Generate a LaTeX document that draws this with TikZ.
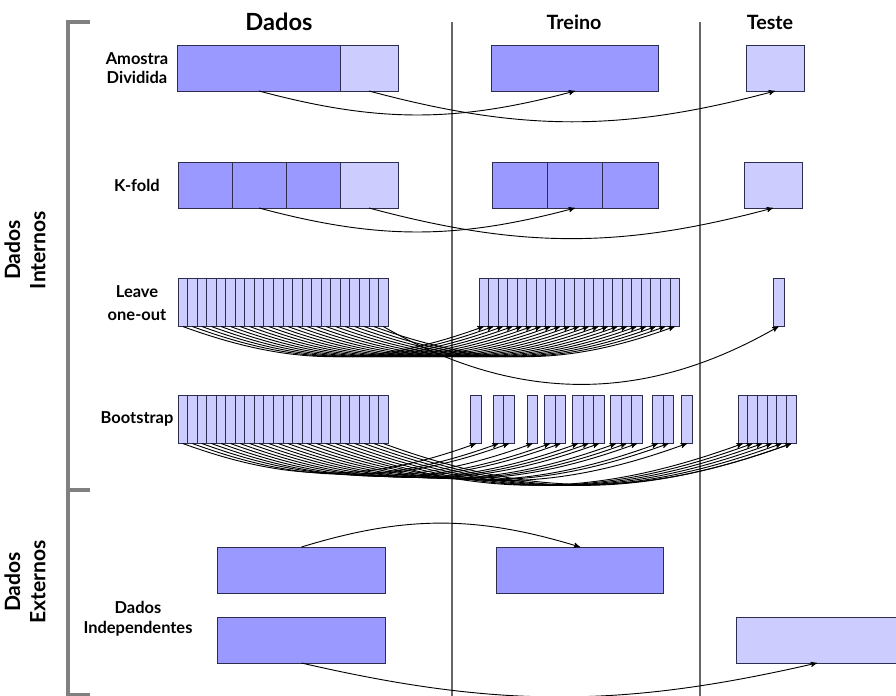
\documentclass[tikz,border=0pt]{standalone}
\usepackage{fontspec}
\setmainfont{Lato}
\usetikzlibrary{arrows,calc}

\definecolor{treinocor}{RGB}{153,153,255}
\definecolor{testecor}{RGB}{204,204,255}
\definecolor{bordacor}{RGB}{45,45,80}
\definecolor{chavecor}{RGB}{128,128,128}

\tikzset{
  caixa/.style={draw=bordacor, line width=0.7pt, inner sep=0pt, outer sep=0pt, minimum height=1.15cm},
  trn/.style={caixa, fill=treinocor},
  tst/.style={caixa, fill=testecor},
  fina/.style={tst, minimum width=0.239cm, minimum height=1.2cm},
  seta/.style={->, >=stealth', line width=0.65pt},
  rotulo/.style={align=center, font=\bfseries\fontsize{11.7}{14}\selectfont},
  titulo/.style={font=\bfseries\fontsize{14}{16}\selectfont},
  lado/.style={rotate=90, align=center, font=\bfseries\fontsize{15}{18}\selectfont},
  chave/.style={draw=chavecor, line width=2.8pt},
  divisa/.style={draw=black!60, line width=0.9pt}
}

\begin{document}
\begin{tikzpicture}[x=0.025cm, y=-0.025cm]
\useasboundingbox (0,0) rectangle (896,696);

% chaves laterais
\draw[chave] (90,22) -- (68,22) -- (68,490) -- (90,490);
\draw[chave] (68,490) -- (68,695) -- (90,695);
\node[lado] (internos) at (25,250) {Dados\\Internos};
\node[lado] (externos) at (25,582) {Dados\\Externos};

% colunas
\node[titulo, font=\bfseries\fontsize{16.8}{19}\selectfont] (dados) at (279,22) {Dados};
\node[titulo] (treino) at (574,22) {Treino};
\node[titulo] (teste) at (770,22) {Teste};
\draw[divisa] (452,22) -- (452,696);
\draw[divisa] (700,22) -- (700,696);

% amostra dividida
\node[rotulo] (amostra) at (137,68) {Amostra\\Dividida};
\node[trn, minimum width=4.05cm] (d1a) at (259,68) {};
\node[tst, minimum width=1.45cm] (d1b) at (369,68) {};
\node[trn, minimum width=4.15cm] (t1) at (575,68) {};
\node[tst, minimum width=1.45cm] (s1) at (775,68) {};
\draw[seta] (d1a.south) to[bend right=15] (t1.south);
\draw[seta] (d1b.south) to[bend right=15] (s1.south);

% k-fold
\node[rotulo] (kfold) at (137,185) {K-fold};
\foreach \i in {1,2,3}
  \node[trn, minimum width=1.35cm] (d2-\i) at ({178+54*(\i-0.5)},185) {};
\node[tst, minimum width=1.45cm] (d2-4) at (369,185) {};
\foreach \i in {1,2,3}
  \node[trn, minimum width=1.383cm] (t2-\i) at ({492+55.33*(\i-0.5)},185) {};
\node[tst, minimum width=1.45cm] (s2) at (773,185) {};
\draw[seta] (d2-2.south) to[bend right=15] (t2-2.south);
\draw[seta] (d2-4.south) to[bend right=15] (s2.south);

% leave one-out
\node[rotulo] (loo) at (137,303) {Leave\\[1mm]one-out};
\foreach \i in {1,...,22}
  \node[fina] (d3-\i) at ({178+9.55*(\i-0.5)},302.5) {};
\foreach \i in {1,...,21}
  \node[fina] (t3-\i) at ({479+9.55*(\i-0.5)},302.5) {};
\node[fina, minimum width=0.275cm] (s3) at (778.5,302.5) {};
\foreach \i in {1,...,21}
  \draw[seta] (d3-\i.south) to[bend right=20] (t3-\i.south);
\draw[seta] (d3-22.south) to[bend right=30] (s3.south);

% bootstrap
\node[rotulo] (boot) at (137,419) {Bootstrap};
\foreach \i in {1,...,22}
  \node[fina] (d4-\i) at ({178+9.55*(\i-0.5)},419.5) {};
\foreach \x [count=\i] in {476,498.5,509,532.5,550,560.5,578,588.5,599,616,626.5,637,658,668.5,687}
  \node[fina, minimum width=0.2625cm] (t4-\i) at (\x,419.5) {};
\foreach \i in {1,...,6}
  \node[fina, minimum width=0.2425cm] (s4-\i) at ({738+9.7*(\i-0.5)},419.5) {};
\foreach \a/\b in {1/t4-1,2/t4-2,3/t4-3,4/t4-4,5/t4-5,6/t4-6,7/t4-7,8/t4-8,9/t4-9,10/t4-10,11/t4-11,12/t4-12,13/t4-13,14/t4-14,15/t4-15,16/s4-1,17/s4-2,18/s4-3,19/s4-4,20/s4-5,21/s4-6,22/s4-6}
  \draw[seta] (d4-\a.south) to[bend right=20] (\b.south);

% dados externos
\node[rotulo] (indep) at (138,619) {Dados\\Independentes};
\node[trn, minimum width=4.175cm] (e1) at (301.5,570) {};
\node[trn, minimum width=4.175cm] (e2) at (301.5,640) {};
\node[trn, minimum width=4.15cm] (te) at (580,570) {};
\node[tst, minimum width=4cm] (se) at (817,640) {};
\draw[seta] (e1.north) to[bend left=17] (te.north);
\draw[seta] (e2.south) to[bend right=13] (se.south);
\end{tikzpicture}
\end{document}
